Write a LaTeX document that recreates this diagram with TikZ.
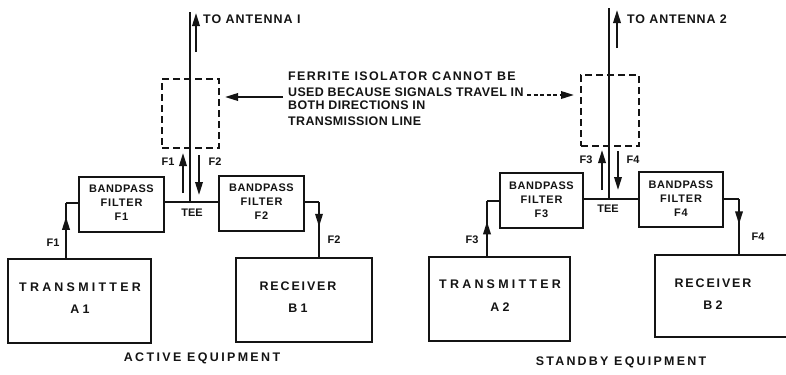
\documentclass[tikz,border=0pt]{standalone}
\usepackage{fontspec}
\setmainfont{Liberation Sans}
\usetikzlibrary{arrows.meta,decorations.markings}
\newcommand\lsp[2]{{\addfontfeature{LetterSpace=#1}#2}}
\definecolor{ink}{HTML}{141414}
\begin{document}
\begin{tikzpicture}[x=1bp,y=-1bp,
  line/.style={draw=ink,line width=1.9bp},
  mainline/.style={draw=ink,line width=2.2bp},
  box/.style={draw=ink,line width=2bp,inner sep=0pt},
  isobox/.style={draw=ink,line width=2bp,dash pattern=on 7bp off 4bp,inner sep=0pt},
  tip/.style={-{Triangle[length=13bp,width=7.5bp]}},
  midarr/.style={postaction={decorate},decoration={markings,mark=at position #1 with {\arrow{Triangle[length=13bp,width=7.5bp]}}}},
  lbl/.style={text=ink,inner sep=0pt,font=\bfseries\fontsize{12.5}{14}\selectfont},
  slbl/.style={text=ink,inner sep=0pt,font=\bfseries\fontsize{11}{13}\selectfont},
]
\clip (0,0) rectangle (786,374);
\fill[white] (0,0) rectangle (786,374);

% ---------- ACTIVE (left) ----------
\node[box,minimum width=85bp,minimum height=55bp] (f1) at (121.5,204.5) {};
\node[box,minimum width=85bp,minimum height=55bp] (f2) at (261.5,203.5) {};
\node[box,minimum width=143bp,minimum height=84bp] (a1) at (79.5,301) {};
\node[box,minimum width=136bp,minimum height=84bp] (b1) at (304,300) {};
\node[isobox,minimum width=57bp,minimum height=69bp] (iso1) at (190.5,113.5) {};

\node[slbl,align=center] (f1t) at (121.5,203) {\lsp{5}{BANDPASS}\\[1bp]\lsp{8}{FILTER}\\[1bp]\lsp{8}{F1}};
\node[slbl,align=center] (f2t) at (261.5,202) {\lsp{5}{BANDPASS}\\[1bp]\lsp{8}{FILTER}\\[1bp]\lsp{8}{F2}};
\node[lbl] (a1t1) at (80,287) {\lsp{26}{TRANSMITTER}};
\node[lbl] (a1t2) at (80,309) {\lsp{26}{A1}};
\node[lbl] (b1t1) at (298,286) {\lsp{15}{RECEIVER}};
\node[lbl] (b1t2) at (298,308) {\lsp{26}{B1}};

\coordinate (ant1) at (190,12);
\coordinate (tee1) at (190,202);
\draw[mainline] (ant1) -- (tee1);
\draw[line] (f1.east |- tee1) -- (f2.west |- tee1);
\node[slbl] (tee1t) at (192,213) {TEE};

\coordinate (ant1a) at (196,52);
\coordinate (ant1b) at (196,13);
\draw[line,tip] (ant1a) -- (ant1b);
\node[lbl,anchor=west] (ant1t) at (203,19) {\lsp{8}{TO ANTENNA I}};

\coordinate (u1a) at (183,193);
\coordinate (u1b) at (183,153);
\coordinate (d2a) at (199,155);
\coordinate (d2b) at (199,195);
\draw[line,tip] (u1a) -- (u1b);
\draw[line,tip] (d2a) -- (d2b);
\node[slbl] (u1t) at (168,162) {F1};
\node[slbl] (d2t) at (215,162) {F2};

\coordinate (c1) at (66,203);
\draw[line,midarr=0.75] (a1.north -| c1) -- (c1);
\draw[line] (c1) -- (c1 -| f1.west);
\node[slbl] (c1t) at (53,243) {F1};

\coordinate (c2) at (319,202);
\draw[line] (c2 -| f2.east) -- (c2);
\draw[line,midarr=0.45] (c2) -- (c2 |- b1.north);
\node[slbl] (c2t) at (334,240) {F2};

\node[lbl] (act) at (202,358) {\lsp{19}{ACTIVE EQUIPMENT}};

% ---------- STANDBY (right) ----------
\node[box,minimum width=83bp,minimum height=55bp] (f3) at (541.5,200.5) {};
\node[box,minimum width=84bp,minimum height=55bp] (f4) at (681,199.5) {};
\node[box,minimum width=141bp,minimum height=84bp] (a2) at (499.5,299) {};
\node[box,minimum width=150bp,minimum height=82bp] (b2) at (730,296) {};
\node[isobox,minimum width=58bp,minimum height=71bp] (iso2) at (610,110.5) {};

\node[slbl,align=center] (f3t) at (541.5,199.5) {\lsp{5}{BANDPASS}\\[1bp]\lsp{8}{FILTER}\\[1bp]\lsp{8}{F3}};
\node[slbl,align=center] (f4t) at (681,198.5) {\lsp{5}{BANDPASS}\\[1bp]\lsp{8}{FILTER}\\[1bp]\lsp{8}{F4}};
\node[lbl] (a2t1) at (500,284) {\lsp{26}{TRANSMITTER}};
\node[lbl] (a2t2) at (500,307) {\lsp{26}{A2}};
\node[lbl] (b2t1) at (713,283) {\lsp{15}{RECEIVER}};
\node[lbl] (b2t2) at (713,305) {\lsp{26}{B2}};

\coordinate (ant2) at (609,8);
\coordinate (tee2) at (609,199);
\draw[mainline] (ant2) -- (tee2);
\draw[line] (f3.east |- tee2) -- (f4.west |- tee2);
\node[slbl] (tee2t) at (608,209) {TEE};

\coordinate (ant2a) at (617,48);
\coordinate (ant2b) at (617,10);
\draw[line,tip] (ant2a) -- (ant2b);
\node[lbl,anchor=west] (ant2t) at (627,19) {\lsp{7}{TO ANTENNA 2}};

\coordinate (u3a) at (602,190);
\coordinate (u3b) at (602,150);
\coordinate (d4a) at (618,151);
\coordinate (d4b) at (618,190);
\draw[line,tip] (u3a) -- (u3b);
\draw[line,tip] (d4a) -- (d4b);
\node[slbl] (u3t) at (586,160) {F3};
\node[slbl] (d4t) at (633,160) {F4};

\coordinate (c3) at (487,201);
\draw[line,midarr=0.63] (a2.north -| c3) -- (c3);
\draw[line] (c3) -- (c3 -| f3.west);
\node[slbl] (c3t) at (472,240) {F3};

\coordinate (c4) at (739,199);
\draw[line] (c4 -| f4.east) -- (c4);
\draw[line,midarr=0.46] (c4) -- (c4 |- b2.north);
\node[slbl] (c4t) at (758,237) {F4};

\node[lbl] (stb) at (621,362) {\lsp{18}{STANDBY EQUIPMENT}};

% ---------- note ----------
\node[lbl,anchor=west] (n1) at (288,76) {\lsp{11}{FERRITE ISOLATOR CANNOT BE}};
\node[lbl,anchor=west] (n2) at (288,92) {\lsp{3}{USED BECAUSE SIGNALS TRAVEL IN}};
\node[lbl,anchor=west] (n3) at (288,105) {\lsp{3}{BOTH DIRECTIONS IN}};
\node[lbl,anchor=west] (n4) at (288,121) {\lsp{3}{TRANSMISSION LINE}};
\path (iso1.east) ++(5,0) coordinate (iso1e);
\path (iso2.west) ++(-6,0) coordinate (iso2w);
\coordinate (nl) at (283,97);
\draw[line,tip] (nl) -- (nl -| iso1e);
\coordinate (nr) at (527,95);
\draw[line,tip,dash pattern=on 4bp off 2.5bp] (nr) -- (nr -| iso2w);
\end{tikzpicture}
\end{document}
